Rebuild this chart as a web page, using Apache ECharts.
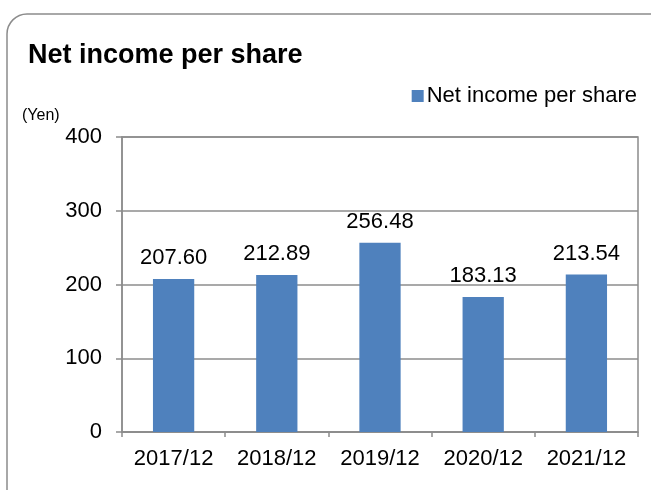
<!DOCTYPE html>
<html>
<head>
<meta charset="utf-8">
<script src="https://cdn.jsdelivr.net/npm/echarts@6/dist/echarts.min.js"></script>
<style>
  html, body { margin: 0; padding: 0; background: #fff; }
  #chart { width: 651px; height: 490px; }
</style>
</head>
<body>
<div id="chart"></div>
<script>
// data
const years = ['2017/12', '2018/12', '2019/12', '2020/12', '2021/12']
const netIncomePerShare = [207.60, 212.89, 256.48, 183.13, 213.54]
const seriesName = 'Net income per share'

const font = 'Liberation Sans, Arial, sans-serif'
const gray = '#8c8c8c'

const chart = echarts.init(document.getElementById('chart'))

chart.setOption({
  animation: false,
  textStyle: { fontFamily: font },
  title: {
    text: 'Net income per share',
    left: 23,
    top: 37,
    textStyle: { fontSize: 27, fontWeight: 'bold', color: '#000', fontFamily: font }
  },
  legend: {
    data: [seriesName],
    right: 9,
    top: 80,
    icon: 'rect',
    itemWidth: 12,
    itemHeight: 12,
    itemGap: 4,
    textStyle: { fontSize: 22, color: '#000', fontFamily: font, padding: [0, 0, 0, -2] }
  },
  graphic: [
    {
      type: 'rect',
      shape: { x: 7, y: 14, width: 664, height: 500, r: 20 },
      style: { fill: 'none', stroke: gray, lineWidth: 1.5 },
      silent: true
    },
    {
      type: 'text',
      left: 22,
      top: 108,
      style: { text: '(Yen)', fontSize: 16, fill: '#000', fontFamily: font }
    }
  ],
  grid: {
    left: 122,
    right: 13,
    top: 137,
    bottom: 58,
    show: true,
    borderColor: gray,
    borderWidth: 1.5
  },
  xAxis: {
    type: 'category',
    data: years,
    axisLine: { lineStyle: { color: gray, width: 1.5 } },
    axisTick: { show: true, length: 5, lineStyle: { color: gray, width: 1.5 } },
    axisLabel: { interval: 0, hideOverlap: false, fontSize: 22, color: '#000', margin: 16, fontFamily: font }
  },
  yAxis: {
    type: 'value',
    min: 0,
    max: 400,
    interval: 100,
    axisLine: { show: true, lineStyle: { color: gray, width: 1.5 } },
    axisTick: { show: true, length: 6, lineStyle: { color: gray, width: 1.5 } },
    axisLabel: { fontSize: 22, color: '#000', margin: 20, fontFamily: font },
    splitLine: { lineStyle: { color: gray, width: 1.5 } }
  },
  series: [{
    name: seriesName,
    type: 'bar',
    data: netIncomePerShare,
    barWidth: '40%',
    itemStyle: { color: '#4f81bd' },
    label: {
      show: true,
      position: 'top',
      distance: 10,
      fontSize: 22,
      color: '#000',
      fontFamily: font,
      formatter: p => p.value.toFixed(2)
    }
  }]
})
</script>
</body>
</html>
